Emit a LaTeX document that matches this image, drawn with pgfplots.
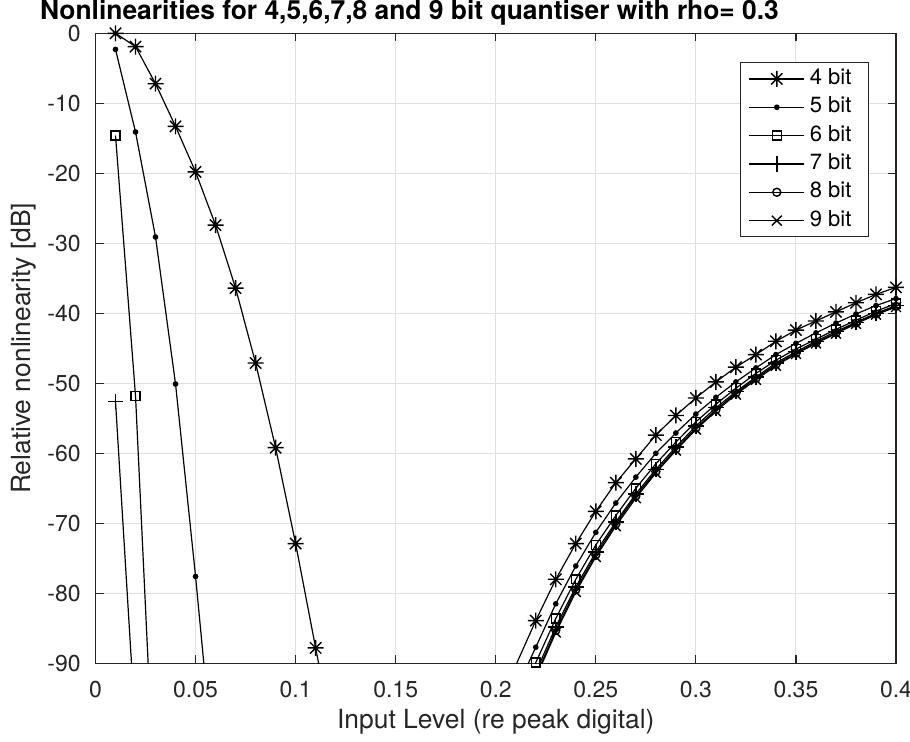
\documentclass[border=0pt]{standalone}
\usepackage{pgfplots}
\pgfplotsset{compat=1.18}
\usepackage{fontspec}
\setmainfont{TeX Gyre Heros}
\definecolor{axgray}{HTML}{262626}
\definecolor{gridgray}{HTML}{DFDFDF}
\pgfdeclareplotmark{mstar}{%
  \pgfpathmoveto{\pgfpoint{-\pgfplotmarksize}{0pt}}\pgfpathlineto{\pgfpoint{\pgfplotmarksize}{0pt}}%
  \pgfpathmoveto{\pgfpoint{0pt}{-\pgfplotmarksize}}\pgfpathlineto{\pgfpoint{0pt}{\pgfplotmarksize}}%
  \pgfpathmoveto{\pgfpoint{-0.7071\pgfplotmarksize}{-0.7071\pgfplotmarksize}}\pgfpathlineto{\pgfpoint{0.7071\pgfplotmarksize}{0.7071\pgfplotmarksize}}%
  \pgfpathmoveto{\pgfpoint{-0.7071\pgfplotmarksize}{0.7071\pgfplotmarksize}}\pgfpathlineto{\pgfpoint{0.7071\pgfplotmarksize}{-0.7071\pgfplotmarksize}}%
  \pgfusepathqstroke}
\begin{document}
\begin{tikzpicture}
\useasboundingbox (-47.75pt,-39.35pt) rectangle (407.25pt,331.65pt);
\begin{axis}[
  scale only axis, width=400.25pt, height=315pt,
  at={(0pt,0pt)}, anchor=south west,
  xmin=0, xmax=0.4, ymin=-90, ymax=0,
  xtick={0,0.05,0.1,0.15,0.2,0.25,0.3,0.35,0.4},
  xticklabels={0,0.05,0.1,0.15,0.2,0.25,0.3,0.35,0.4},
  ytick={-90,-80,-70,-60,-50,-40,-30,-20,-10,0},
  yticklabels={-90,-80,-70,-60,-50,-40,-30,-20,-10,0},
  tick align=inside, major tick length=4pt,
  grid=major, major grid style={gridgray, line width=0.5pt},
  axis line style={axgray, line width=0.6pt},
  every tick/.style={axgray, line width=0.6pt},
  tick label style={font=\fontsize{11.5}{13}\selectfont, text=axgray},
  xticklabel style={anchor=north, yshift=-5.4pt},
  yticklabel style={anchor=east, xshift=-3.9pt},
  xlabel={Input Level (re peak digital)},
  ylabel={Relative nonlinearity [dB]},
  label style={font=\fontsize{13.2}{15}\selectfont, text=axgray},
  xlabel style={at={(axis description cs:0.5,-0.104)}, anchor=base},
  ylabel style={at={(axis description cs:-0.0806,0.5)}, anchor=base},
  unbounded coords=jump,
  legend image code/.code={\draw[mark repeat=2, mark phase=2] plot coordinates {(0pt,0pt) (13.75pt,0pt) (27.5pt,0pt)};},
  legend style={at={(rel axis cs:1,1)}, anchor=north east, xshift=-13.5pt, yshift=-14.5pt,
    draw=axgray, line width=0.5pt, font=\fontsize{11}{13}\selectfont,
    inner xsep=4pt, inner ysep=2.8pt, row sep=3.67pt, column sep=2.5pt,
    nodes={inner sep=0pt, text height=8pt, text depth=2.5pt},
    cells={anchor=west}},
]
\addplot[black, solid, line width=0.6pt, mark=mstar, mark size=4pt, mark options={solid, black, line width=0.7pt}] coordinates {
(0.01,0) (0.02,-1.9) (0.03,-7.2) (0.04,-13.3) (0.05,-19.8) (0.06,-27.4) (0.07,-36.4) (0.08,-47.1) (0.09,-59.2) (0.10,-72.9) (0.11,-87.8) (0.12,-102.6)
(0.15,nan)
(0.21,-90.3) (0.22,-83.9) (0.23,-78.0) (0.24,-72.9) (0.25,-68.3) (0.26,-64.2) (0.27,-60.8) (0.28,-57.4) (0.29,-54.6) (0.30,-52.1) (0.31,-49.8) (0.32,-47.7) (0.33,-45.9) (0.34,-44.0) (0.35,-42.4) (0.36,-41.1) (0.37,-39.8) (0.38,-38.5) (0.39,-37.3) (0.40,-36.3)
};
\addlegendentry{4 bit\hspace*{4.5pt}}
\addplot[black, solid, line width=0.6pt, mark=*, mark size=1.1pt, mark options={solid, black, fill=black}] coordinates {
(0.01,-2.3) (0.02,-14.1) (0.03,-29.1) (0.04,-50.1) (0.05,-77.6) (0.06,-107.6)
(0.15,nan)
(0.21,-93.9) (0.22,-87.7) (0.23,-81.5) (0.24,-76.1) (0.25,-71.3) (0.26,-67.1) (0.27,-63.4) (0.28,-60.0) (0.29,-57.1) (0.30,-54.4) (0.31,-52.0) (0.32,-49.8) (0.33,-47.8) (0.34,-45.9) (0.35,-44.3) (0.36,-42.8) (0.37,-41.4) (0.38,-40.1) (0.39,-38.9) (0.40,-37.9)
};
\addlegendentry{5 bit\hspace*{4.5pt}}
\addplot[black, solid, line width=0.6pt, mark=square, mark size=2.2pt, mark options={solid, black, line width=0.7pt}] coordinates {
(0.01,-14.6) (0.02,-51.8) (0.03,-112.4)
(0.15,nan)
(0.21,-96.5) (0.22,-89.9) (0.23,-83.6) (0.24,-78.0) (0.25,-73.1) (0.26,-68.9) (0.27,-65.0) (0.28,-61.5) (0.29,-58.4) (0.30,-55.5) (0.31,-53.0) (0.32,-50.7) (0.33,-48.6) (0.34,-46.7) (0.35,-45.1) (0.36,-43.7) (0.37,-42.3) (0.38,-41.0) (0.39,-39.7) (0.40,-38.6)
};
\addlegendentry{6 bit\hspace*{4.5pt}}
\addplot[black, solid, line width=0.6pt, mark=+, mark size=3.9pt, mark options={solid, black, line width=0.7pt}] coordinates {
(0.01,-52.6) (0.02,-99.4)
(0.15,nan)
(0.21,-98.0) (0.22,-91.3) (0.23,-84.8) (0.24,-79.1) (0.25,-74.1) (0.26,-69.8) (0.27,-65.8) (0.28,-62.3) (0.29,-59.1) (0.30,-56.1) (0.31,-53.5) (0.32,-51.2) (0.33,-49.1) (0.34,-47.1) (0.35,-45.5) (0.36,-44.0) (0.37,-42.6) (0.38,-41.3) (0.39,-40.0) (0.40,-38.9)
};
\addlegendentry{7 bit\hspace*{4.5pt}}
\addplot[black, solid, line width=0.6pt, mark=o, mark size=2pt, mark options={solid, black, line width=0.7pt}] coordinates {
(0.21,-98.5) (0.22,-91.8) (0.23,-85.3) (0.24,-79.5) (0.25,-74.5) (0.26,-70.1) (0.27,-66.1) (0.28,-62.6) (0.29,-59.4) (0.30,-56.4) (0.31,-53.8) (0.32,-51.4) (0.33,-49.3) (0.34,-47.3) (0.35,-45.7) (0.36,-44.2) (0.37,-42.8) (0.38,-41.4) (0.39,-40.1) (0.40,-39.0)
};
\addlegendentry{8 bit\hspace*{4.5pt}}
\addplot[black, solid, line width=0.6pt, mark=x, mark size=3.5pt, mark options={solid, black, line width=0.7pt}] coordinates {
(0.21,-99.0) (0.22,-92.1) (0.23,-85.6) (0.24,-79.8) (0.25,-74.8) (0.26,-70.4) (0.27,-66.4) (0.28,-62.8) (0.29,-59.6) (0.30,-56.6) (0.31,-54.0) (0.32,-51.6) (0.33,-49.5) (0.34,-47.5) (0.35,-45.8) (0.36,-44.3) (0.37,-42.9) (0.38,-41.5) (0.39,-40.2) (0.40,-39.1)
};
\addlegendentry{9 bit\hspace*{4.5pt}}
\end{axis}
\node[anchor=base, font=\bfseries\fontsize{13.2}{15}\selectfont] at (157pt,321.65pt) {Nonlinearities for 4,5,6,7,8 and 9 bit quantiser with rho= 0.3};
\end{tikzpicture}
\end{document}
